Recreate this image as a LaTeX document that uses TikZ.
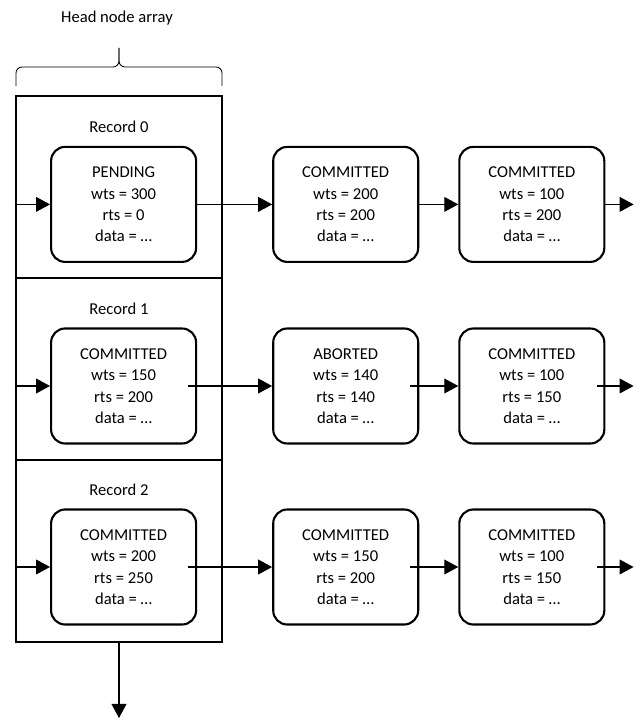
\documentclass[tikz,border=0pt]{standalone}
\usepackage{fontspec}
\setmainfont{Carlito}
\usetikzlibrary{arrows.meta,positioning}
\tikzset{
	version/.style={draw,line width=1.5pt,rounded corners=0.35cm,minimum width=3.625cm,minimum height=2.875cm,align=center},
	slot/.style={draw,line width=1.5pt,minimum width=5.15cm,minimum height=4.55cm},
	ptr/.style={-{Triangle[length=0.35cm,width=0.37cm]},line width=0.9pt},
}
\begin{document}
\begin{tikzpicture}[font=\fontsize{11.8}{15.2}\selectfont]
	\useasboundingbox (0,0) rectangle (16.075,18);
	% head node array
	\node[slot](row0) at (2.975,13.325){};
	\node[slot](row1) at (2.975,8.775){};
	\node[slot](row2) at (2.975,4.225){};
	\node[below=0.53cm of row0.north](lab0){Record 0};
	\node[below=0.53cm of row1.north](lab1){Record 1};
	\node[below=0.5cm of row2.north](lab2){Record 2};
	\node(title) at (2.925,17.55){Head node array};
	\draw[line width=0.6pt,rounded corners=0.15cm](0.4,15.85)--(0.4,16.325)--(2.975,16.325)--(2.975,16.8);
	\draw[line width=0.6pt,rounded corners=0.15cm](5.55,15.85)--(5.55,16.325)--(2.975,16.325)--(2.975,16.8);
	% version chains
	\node[version](n00) at (3.09,12.89){PENDING\\wts = 300\\rts = 0\\data = …};
	\node[version,right=1.875cm of n00](n01){COMMITTED\\wts = 200\\rts = 200\\data = …};
	\node[version,right=0.975cm of n01](n02){COMMITTED\\wts = 100\\rts = 200\\data = …};
	\node[version](n10) at (3.09,8.35){COMMITTED\\wts = 150\\rts = 200\\data = …};
	\node[version,right=1.875cm of n10](n11){ABORTED\\wts = 140\\rts = 140\\data = …};
	\node[version,right=0.975cm of n11](n12){COMMITTED\\wts = 100\\rts = 150\\data = …};
	\node[version](n20) at (3.09,3.825){COMMITTED\\wts = 200\\rts = 250\\data = …};
	\node[version,right=1.875cm of n20](n21){COMMITTED\\wts = 150\\rts = 200\\data = …};
	\node[version,right=0.975cm of n21](n22){COMMITTED\\wts = 100\\rts = 150\\data = …};
	\coordinate(rim) at (15.84,0);
	\coordinate(tail) at (2.975,0.05);
	\draw[ptr](row0.west|-n00)--(n00);
	\draw[ptr](n00)--(n01);
	\draw[ptr](n01)--(n02);
	\draw[ptr](n02)--(n02.east-|rim);
	\draw[ptr](row1.west|-n10)--(n10);
	\draw[ptr,shorten <=-0.22cm](n10)--(n11);
	\draw[ptr,shorten <=-0.22cm](n11)--(n12);
	\draw[ptr,shorten <=-0.2cm](n12)--(n12.east-|rim);
	\draw[ptr](row2.west|-n20)--(n20);
	\draw[ptr,shorten <=-0.22cm](n20)--(n21);
	\draw[ptr,shorten <=-0.22cm](n21)--(n22);
	\draw[ptr,shorten <=-0.2cm](n22)--(n22.east-|rim);
	\draw[ptr](row2.south)--(tail);
\end{tikzpicture}
\end{document}
